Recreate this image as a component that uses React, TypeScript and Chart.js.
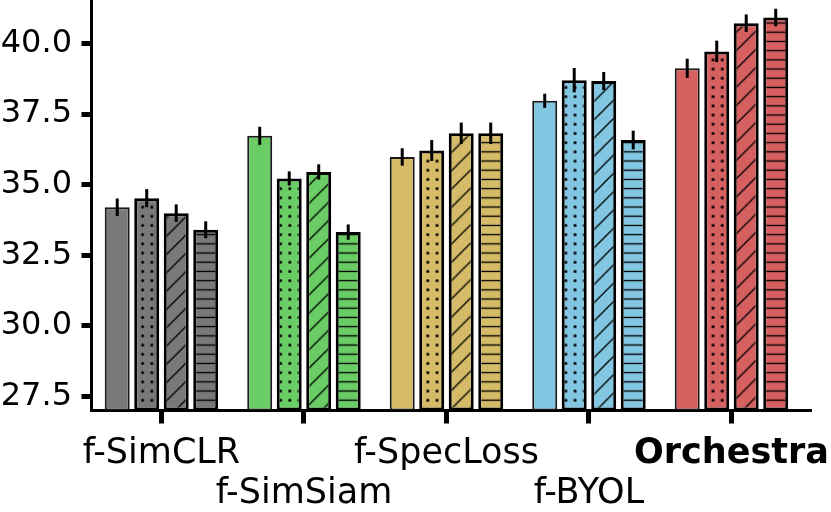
import React, { useEffect, useRef } from 'react';
import { Chart, registerables } from 'chart.js';

Chart.register(...registerables);

// ---- data ----
const categories = ['f-SimCLR', 'f-SimSiam', 'f-SpecLoss', 'f-BYOL', 'Orchestra'];
const highlightCategory = 'Orchestra';
const variants = ['plain', 'dots', 'diagonal', 'horizontal'];

const plainValues = [34.2, 36.73, 35.98, 37.97, 39.12];
const dotsValues = [34.52, 35.22, 36.21, 38.7, 39.72];
const diagonalValues = [33.99, 35.45, 36.82, 38.67, 40.72];
const horizontalValues = [33.4, 33.32, 36.82, 36.58, 40.92];

const plainErrors = [0.31, 0.32, 0.31, 0.25, 0.34];
const dotsErrors = [0.32, 0.25, 0.37, 0.43, 0.38];
const diagonalErrors = [0.31, 0.27, 0.38, 0.32, 0.31];
const horizontalErrors = [0.3, 0.27, 0.38, 0.33, 0.31];

const groupColors = ['#797979', '#6acc64', '#d5bb67', '#82c6e2', '#d65f5f'];

const yTicks = [27.5, 30.0, 32.5, 35.0, 37.5, 40.0];
const yMin = 27;
const yMax = 41.54;
const xMin = -0.491;
const xMax = 4.563;

const FONT = 'DejaVu Sans';

function makePattern(color: string, hatch: string): CanvasPattern | string {
  if (hatch === 'plain') return color;
  const tile = document.createElement('canvas');
  let size = 9;
  let scale = 9.2 / 9;
  if (hatch === 'diagonal') {
    size = 18;
    scale = 18.3 / 18;
  }
  tile.width = size;
  tile.height = size;
  const c = tile.getContext('2d')!;
  c.fillStyle = color;
  c.fillRect(0, 0, size, size);
  c.strokeStyle = '#000';
  c.fillStyle = '#000';
  c.lineWidth = 1.3;
  if (hatch === 'dots') {
    c.beginPath();
    c.arc(size / 2, size / 2, 1.5, 0, Math.PI * 2);
    c.fill();
  } else if (hatch === 'horizontal') {
    c.beginPath();
    c.moveTo(0, size / 2);
    c.lineTo(size, size / 2);
    c.stroke();
  } else if (hatch === 'diagonal') {
    c.beginPath();
    c.moveTo(-1, size + 1);
    c.lineTo(size + 1, -1);
    c.moveTo(-2, 2);
    c.lineTo(2, -2);
    c.moveTo(size - 2, size + 2);
    c.lineTo(size + 2, size - 2);
    c.stroke();
  }
  const ctx = document.createElement('canvas').getContext('2d')!;
  const pat = ctx.createPattern(tile, 'repeat')!;
  if (pat.setTransform && typeof DOMMatrix !== 'undefined') {
    pat.setTransform(new DOMMatrix().scale(scale, scale));
  }
  return pat;
}

const errorBarPlugin = {
  id: 'errorBars',
  afterDatasetsDraw(chart: any) {
    const ctx = chart.ctx;
    const y = chart.scales.y;
    ctx.save();
    ctx.strokeStyle = '#000';
    ctx.lineWidth = 3;
    chart.data.datasets.forEach((ds: any, di: number) => {
      const meta = chart.getDatasetMeta(di);
      meta.data.forEach((bar: any, i: number) => {
        const v = ds.data[i].y;
        const e = ds.errors[i];
        ctx.beginPath();
        ctx.moveTo(bar.x, y.getPixelForValue(v - e));
        ctx.lineTo(bar.x, y.getPixelForValue(v + e));
        ctx.stroke();
      });
    });
    ctx.restore();
  },
};

export default function App() {
  const ref = useRef<HTMLCanvasElement>(null);

  useEffect(() => {
    document.body.style.margin = '0';
    const canvas = ref.current!;
    const seriesValues = [plainValues, dotsValues, diagonalValues, horizontalValues];
    const seriesErrors = [plainErrors, dotsErrors, diagonalErrors, horizontalErrors];

    const datasets = variants.map((hatch, vi) => ({
      label: hatch,
      data: seriesValues[vi].map((v, i) => ({ x: i, y: v })),
      errors: seriesErrors[vi],
      backgroundColor: groupColors.map((c) => makePattern(c, hatch)),
      borderColor: hatch === 'plain' ? '#1a1a1a' : '#000',
      borderWidth: hatch === 'plain' ? 2 : 3,
      borderSkipped: false,
      base: yMin,
      categoryPercentage: 0.828,
      barPercentage: 0.847,
    }));

    const chart = new Chart(canvas, {
      type: 'bar',
      data: { datasets: datasets as any },
      plugins: [errorBarPlugin],
      options: {
        animation: false,
        responsive: false,
        maintainAspectRatio: false,
        devicePixelRatio: 1,
        layout: { padding: { left: 0, right: 19.3, top: 0, bottom: 0 } },
        plugins: { legend: { display: false }, tooltip: { enabled: false } },
        scales: {
          x: {
            type: 'linear',
            offset: false,
            min: xMin,
            max: xMax,
            afterBuildTicks: (axis: any) => {
              axis.ticks = categories.map((_, i) => ({ value: i }));
            },
            afterFit: (axis: any) => {
              axis.height = 101.5;
              axis.paddingLeft = 0;
              axis.paddingRight = 0;
            },
            ticks: {
              autoSkip: false,
              maxRotation: 0,
              minRotation: 0,
              padding: 10.6,
              color: '#000',
              font: (ctx: any) => ({
                family: FONT,
                size: 35,
                lineHeight: 1.14,
                weight: categories[ctx.index] === highlightCategory ? 'bold' : 'normal',
              }),
              callback: (_v: any, index: number) =>
                index % 2 === 1 ? ['', categories[index]] : categories[index],
            },
            grid: {
              offset: false,
              drawOnChartArea: false,
              drawTicks: true,
              tickLength: 13,
              tickWidth: 5,
              tickColor: '#000',
            },
            border: { display: true, color: '#000', width: 3 },
          },
          y: {
            min: yMin,
            max: yMax,
            afterBuildTicks: (axis: any) => {
              axis.ticks = yTicks.map((v) => ({ value: v }));
            },
            afterFit: (axis: any) => {
              axis.width = 91.5;
              axis.paddingTop = 0;
              axis.paddingBottom = 0;
            },
            ticks: {
              padding: 9.5,
              color: '#000',
              font: { family: FONT, size: 32 },
              callback: (v: any) => Number(v).toFixed(1),
            },
            grid: {
              drawOnChartArea: false,
              drawTicks: true,
              tickLength: 10,
              tickWidth: 5,
              tickColor: '#000',
            },
            border: { display: true, color: '#000', width: 3 },
          },
        },
      } as any,
    });
    return () => chart.destroy();
  }, []);

  return (
    <div style={{ position: 'absolute', left: 0, top: 0, width: 831, height: 512 }}>
      <canvas ref={ref} width={831} height={512} style={{ width: 831, height: 512 }} />
    </div>
  );
}
